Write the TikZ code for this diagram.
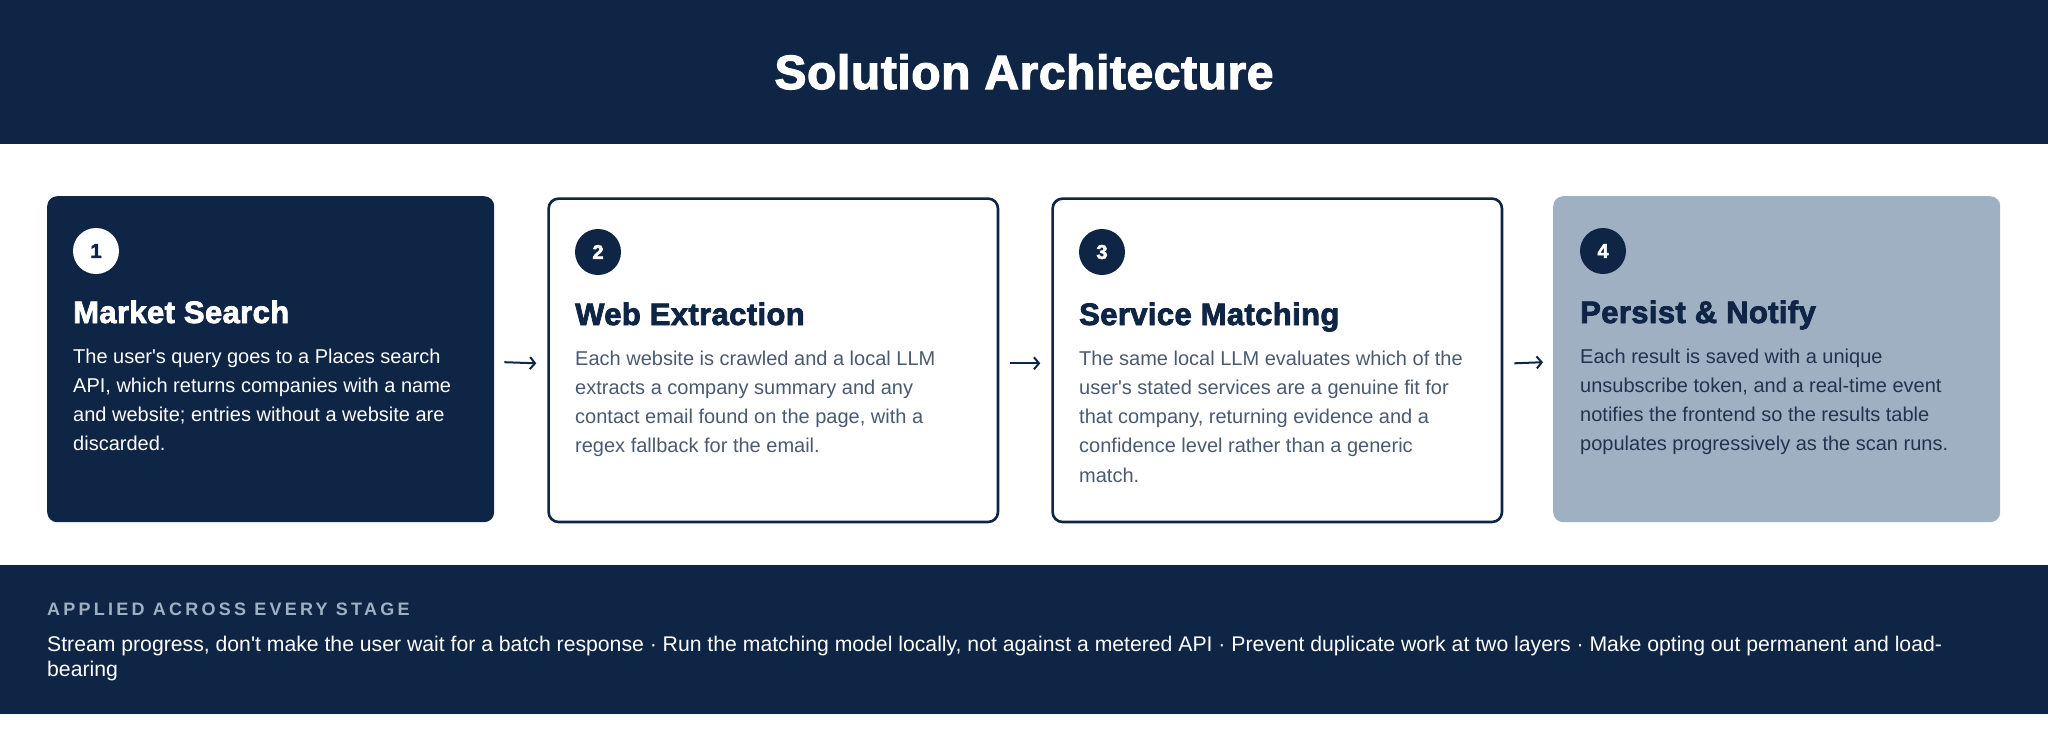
\documentclass[tikz,border=0pt]{standalone}
\usepackage{fontspec}
\setmainfont{Liberation Sans}
\newfontfamily\spacedfont{Liberation Sans}[LetterSpace=18]
\newfontfamily\heavyfont{Liberation Sans}[LetterSpace=1.2,BoldFeatures={FakeBold=2.5}]
\usetikzlibrary{arrows.meta,positioning}
\definecolor{navy}{HTML}{0E2546}
\definecolor{steel}{HTML}{9FB0C3}
\definecolor{slate}{HTML}{4A5A70}
\definecolor{ink}{HTML}{22334D}

\begin{document}
\begin{tikzpicture}[x=1pt,y=-1pt,
  box/.style={rounded corners=10pt,minimum width=447pt,minimum height=326pt,anchor=north west,inner sep=0pt},
  framed/.style={box,fill=white,draw=navy,line width=2.6pt,minimum width=449.4pt,minimum height=323.4pt},
  num/.style={circle,minimum size=46pt,inner sep=0pt,font=\heavyfont\fontsize{20}{24}\selectfont\bfseries},
  head/.style={anchor=base west,inner sep=0pt,font=\heavyfont\fontsize{31}{37}\selectfont\bfseries},
  body/.style={anchor=base west,inner sep=0pt,align=left,font=\fontsize{20}{29.3}\selectfont},
  flow/.style={navy,line width=2pt,-{Straight Barb[length=5pt,width=12pt]}}]
\useasboundingbox (0,0) rectangle (2048,731);
\fill[navy] (0,0) rectangle (2048,144);
\node[white,anchor=base,inner sep=0pt,font=\heavyfont\fontsize{48}{56}\selectfont\bfseries] (title) at (1024,89) {Solution Architecture};
% stages (body nodes sit on the baseline of their last line)
\node[box,fill=navy] (s1) at (47,196) {};
\node[framed] (s2) at (547.3,197.3) {};
\node[framed] (s3) at (1051.3,197.3) {};
\node[box,fill=steel] (s4) at (1553,196) {};
\node[num,fill=white,text=navy] (n1) at (96,251) {1};
\node[num,fill=navy,text=white] (n2) at (598,252) {2};
\node[num,fill=navy,text=white] (n3) at (1102,252) {3};
\node[num,fill=navy,text=white] (n4) at (1603,251) {4};
\node[head,white] (h1) at (73,323) {Market Search};
\node[head,navy] (h2) at (575,325) {Web Extraction};
\node[head,navy] (h3) at (1079,325) {Service Matching};
\node[head,navy] (h4) at (1580,323) {Persist \& Notify};
\node[body,white] (d1) at (73,450.9) {The user\textquotesingle s query goes to a Places search\\API, which returns companies with a name\\and website; entries without a website are\\discarded.};
\node[body,slate] (d2) at (575,452.9) {Each website is crawled and a local LLM\\extracts a company summary and any\\contact email found on the page, with a\\regex fallback for the email.};
\node[body,slate] (d3) at (1079,482.2) {The same local LLM evaluates which of the\\user\textquotesingle s stated services are a genuine fit for\\that company, returning evidence and a\\confidence level rather than a generic\\match.};
\node[body,ink] (d4) at (1580,450.9) {Each result is saved with a unique\\unsubscribe token, and a real-time event\\notifies the frontend so the results table\\populates progressively as the scan runs.};
\draw[flow] ([shift={(10,3)}]s1.east) -- ([shift={(-11,3)}]s2.west);
\draw[flow] ([shift={(11,3)}]s2.east) -- ([shift={(-11,3)}]s3.west);
\draw[flow] ([shift={(11,3)}]s3.east) -- ([shift={(-10,3)}]s4.west);
% principles
\fill[navy] (0,565) rectangle (2048,714);
\node[anchor=base west,inner sep=0pt,steel,font=\spacedfont\fontsize{18}{22}\selectfont\bfseries] (label) at (47,615) {APPLIED ACROSS EVERY STAGE};
\node[anchor=base west,inner sep=0pt,white,align=left,font=\fontsize{21.2}{25}\selectfont] (rules) at (47,676) {Stream progress, don\textquotesingle t make the user wait for a batch response · Run the matching model locally, not against a metered API · Prevent duplicate work at two layers · Make opting out permanent and load-\\bearing};
\end{tikzpicture}
\end{document}
